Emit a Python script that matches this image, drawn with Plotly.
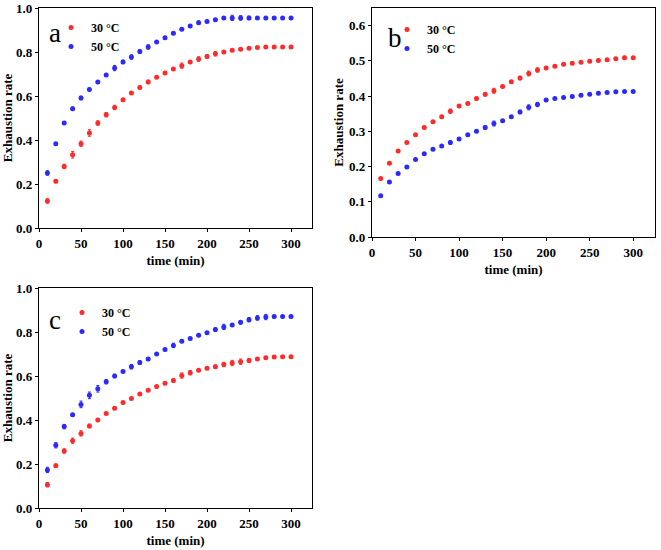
import plotly.graph_objects as go

time = [10, 20, 30, 40, 50, 60, 70, 80, 90, 100, 110, 120, 130, 140, 150,
        160, 170, 180, 190, 200, 210, 220, 230, 240, 250, 260, 270, 280, 290, 300]

a_30 = [0.123, 0.212, 0.280, 0.333, 0.383, 0.432, 0.477, 0.515, 0.548, 0.583,
        0.614, 0.639, 0.664, 0.685, 0.705, 0.723, 0.738, 0.755, 0.768, 0.780,
        0.792, 0.800, 0.808, 0.812, 0.817, 0.821, 0.823, 0.823, 0.823, 0.823]
a_30_err = [0.01, 0.006, 0.01, 0.015, 0.012, 0.015, 0.01, 0.01, 0.01, 0.006,
            0.006, 0.006, 0.008, 0.005, 0.005, 0.005, 0.012, 0.006, 0.01, 0.008,
            0.01, 0.005, 0.005, 0.004, 0.004, 0.004, 0.006, 0.004, 0.004, 0.004]
a_50 = [0.250, 0.383, 0.477, 0.542, 0.591, 0.630, 0.664, 0.695, 0.727, 0.755,
        0.777, 0.802, 0.823, 0.845, 0.865, 0.885, 0.903, 0.918, 0.933, 0.939,
        0.947, 0.955, 0.955, 0.955, 0.955, 0.955, 0.955, 0.955, 0.955, 0.955]
a_50_err = [0.01, 0.006, 0.006, 0.008, 0.008, 0.006, 0.005, 0.005, 0.012, 0.008,
            0.01, 0.008, 0.01, 0.006, 0.006, 0.005, 0.005, 0.005, 0.008, 0.005,
            0.005, 0.006, 0.012, 0.01, 0.008, 0.005, 0.005, 0.005, 0.005, 0.005]

b_30 = [0.166, 0.209, 0.244, 0.268, 0.290, 0.311, 0.327, 0.341, 0.357, 0.372,
        0.379, 0.393, 0.405, 0.415, 0.427, 0.441, 0.451, 0.464, 0.474, 0.480,
        0.485, 0.490, 0.493, 0.496, 0.499, 0.501, 0.503, 0.506, 0.509, 0.509]
b_30_err = [0.003, 0.003, 0.003, 0.003, 0.003, 0.003, 0.003, 0.004, 0.006, 0.003,
            0.003, 0.004, 0.005, 0.007, 0.003, 0.003, 0.005, 0.007, 0.006, 0.003,
            0.003, 0.003, 0.003, 0.003, 0.003, 0.004, 0.003, 0.003, 0.004, 0.003]
b_50 = [0.117, 0.156, 0.180, 0.199, 0.220, 0.236, 0.249, 0.258, 0.268, 0.278,
        0.290, 0.300, 0.311, 0.322, 0.330, 0.341, 0.355, 0.368, 0.376, 0.389,
        0.393, 0.396, 0.399, 0.402, 0.405, 0.408, 0.410, 0.412, 0.413, 0.413]
b_50_err = [0.003, 0.003, 0.003, 0.003, 0.003, 0.003, 0.003, 0.004, 0.005, 0.003,
            0.003, 0.003, 0.005, 0.007, 0.003, 0.003, 0.005, 0.007, 0.006, 0.003,
            0.003, 0.003, 0.003, 0.003, 0.003, 0.004, 0.003, 0.003, 0.003, 0.003]

c_30 = [0.106, 0.192, 0.259, 0.306, 0.339, 0.373, 0.400, 0.430, 0.453, 0.479,
        0.498, 0.518, 0.535, 0.552, 0.567, 0.579, 0.602, 0.615, 0.626, 0.635,
        0.642, 0.652, 0.659, 0.665, 0.671, 0.677, 0.683, 0.686, 0.688, 0.688]
c_30_err = [0.01, 0.008, 0.01, 0.012, 0.012, 0.008, 0.006, 0.005, 0.006, 0.005,
            0.005, 0.006, 0.005, 0.005, 0.005, 0.008, 0.012, 0.01, 0.006, 0.006,
            0.008, 0.01, 0.012, 0.012, 0.008, 0.006, 0.005, 0.005, 0.005, 0.005]
c_50 = [0.173, 0.285, 0.370, 0.424, 0.471, 0.512, 0.542, 0.574, 0.600, 0.621,
        0.642, 0.661, 0.677, 0.700, 0.720, 0.739, 0.758, 0.771, 0.785, 0.797,
        0.811, 0.823, 0.832, 0.844, 0.856, 0.864, 0.868, 0.870, 0.870, 0.870]
c_50_err = [0.012, 0.012, 0.01, 0.006, 0.015, 0.015, 0.015, 0.01, 0.008, 0.005,
            0.01, 0.008, 0.006, 0.006, 0.005, 0.01, 0.006, 0.005, 0.005, 0.005,
            0.008, 0.012, 0.006, 0.008, 0.01, 0.01, 0.012, 0.006, 0.006, 0.006]

series_labels = ["30 °C", "50 °C"]
panel_letters = ["a", "b", "c"]

RED = "#ff2a2a"
BLUE = "#2a2aff"
FONT = "Liberation Serif, Times New Roman, serif"
W, H = 661, 550

fig = go.Figure()

panels = [
    ("", a_30, a_30_err, a_50, a_50_err, "legend"),
    ("2", b_30, b_30_err, b_50, b_50_err, "legend2"),
    ("3", c_30, c_30_err, c_50, c_50_err, "legend3"),
]

for suf, y30, e30, y50, e50, leg in panels:
    for lab, yy, ee, col in [(series_labels[0], y30, e30, RED), (series_labels[1], y50, e50, BLUE)]:
        fig.add_trace(go.Scatter(
            x=time, y=yy, mode="markers", name=lab,
            marker=dict(size=5, color=col, line=dict(width=0)),
            error_y=dict(type="data", array=ee, visible=True, color=col, thickness=1, width=1.5),
            xaxis="x" + suf, yaxis="y" + suf, legend=leg, showlegend=True,
        ))

def fx(p):
    return p / W

def fy(p):
    return 1 - p / H

def px_dom_x(l, r):
    return [fx(l), fx(r)]

def px_dom_y(t, b):
    return [fy(b), fy(t)]

axis_common = dict(
    showline=True, linecolor="black", linewidth=1.3, mirror=True,
    ticks="outside", ticklen=3, tickwidth=1.2, tickcolor="black",
    showgrid=False, zeroline=False, automargin=False,
    tickfont=dict(family=FONT, size=13, color="black", weight="bold"),
)

def xaxis(dom, anchor):
    return dict(axis_common, domain=dom, anchor=anchor, range=[0, 325],
                tickvals=[0, 50, 100, 150, 200, 250, 300],
                title=dict(text="time (min)", font=dict(family=FONT, size=13, color="black", weight="bold"),
                           standoff=6))

def yaxis(dom, anchor, rng, step):
    return dict(axis_common, domain=dom, anchor=anchor, range=rng, dtick=step, tick0=0,
                tickformat=".1f",
                title=dict(text="Exhaustion rate", font=dict(family=FONT, size=13, color="black", weight="bold"),
                           standoff=2))

legend_common = dict(
    font=dict(family=FONT, size=12, color="black", weight="bold"),
    bgcolor="rgba(0,0,0,0)", borderwidth=0, xanchor="left", yanchor="top",
    itemwidth=30, tracegroupgap=0,
)

def leg_pos(mx, my):
    return dict(x=fx(mx - 20), y=fy(my - 14))

fig.update_layout(
    width=W, height=H,
    margin=dict(l=0, r=0, t=0, b=0, autoexpand=False),
    paper_bgcolor="white", plot_bgcolor="white",
    xaxis=xaxis(px_dom_x(39, 312), "y"),
    yaxis=yaxis(px_dom_y(8, 228), "x", [0, 1.0], 0.2),
    xaxis2=xaxis(px_dom_x(372, 655), "y2"),
    yaxis2=yaxis(px_dom_y(8, 237), "x2", [0, 0.65], 0.1),
    xaxis3=xaxis(px_dom_x(39, 312), "y3"),
    yaxis3=yaxis(px_dom_y(288, 508), "x3", [0, 1.0], 0.2),
    legend=dict(legend_common, **leg_pos(71, 27)),
    legend2=dict(legend_common, **leg_pos(407, 29)),
    legend3=dict(legend_common, **leg_pos(82, 312)),
    showlegend=True,
)

letters_pos = [(55, 33), (395, 38), (55, 320)]
for letter, (lx, ly) in zip(panel_letters, letters_pos):
    fig.add_annotation(text=letter, xref="paper", yref="paper",
                       x=fx(lx), y=fy(ly), xanchor="center", yanchor="middle",
                       showarrow=False, font=dict(family=FONT, size=27, color="black"))

fig.write_html("out.html", config={"displayModeBar": False},
               post_script="document.body.style.margin='0px';")
